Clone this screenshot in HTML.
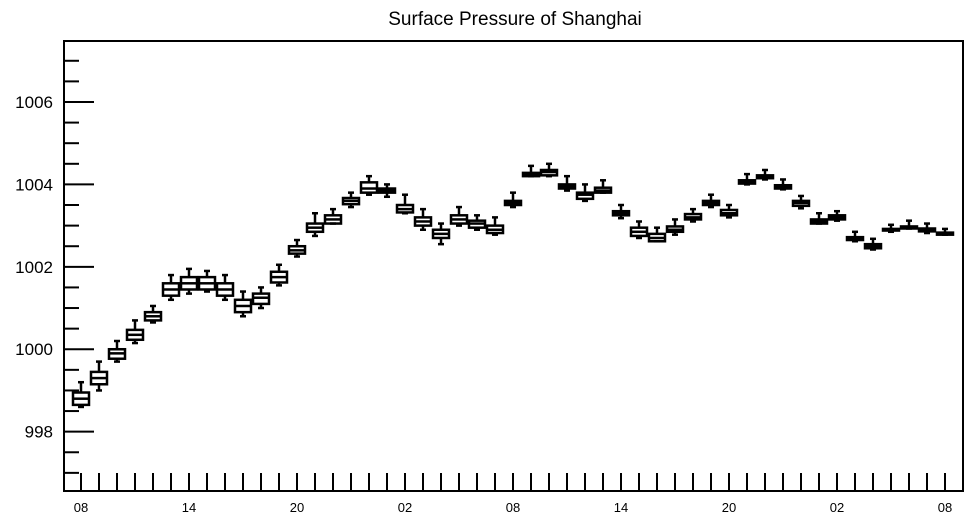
<!DOCTYPE html>
<html><head><meta charset="utf-8"><style>
html,body{margin:0;padding:0;background:#fff;}
svg{display:block;font-family:"Liberation Sans",sans-serif;}
</style></head><body>
<svg id="chart" width="969" height="520" viewBox="0 0 969 520" xmlns="http://www.w3.org/2000/svg">
<text x="515" y="25" font-size="19" text-anchor="middle" fill="#000">Surface Pressure of Shanghai</text>
<rect x="64" y="41" width="899" height="450" fill="none" stroke="#000" stroke-width="2"/>
<g id="axes"></g>
<g id="marks"></g>
</svg>
<script>
const med=[998.8,999.3,999.9,1000.35,1000.8,1001.45,1001.6,1001.6,1001.45,1001.05,1001.25,1001.75,1002.4,1002.95,1003.15,1003.6,1003.9,1003.85,1003.4,1003.1,1002.8,1003.15,1003.05,1002.9,1003.55,1004.25,1004.3,1003.95,1003.75,1003.85,1003.3,1002.85,1002.7,1002.9,1003.2,1003.55,1003.3,1004.05,1004.2,1003.95,1003.55,1003.1,1003.2,1002.7,1002.5,1002.9,1002.95,1002.9,1002.8];
const q1=[998.65,999.15,999.77,1000.23,1000.7,1001.3,1001.45,1001.45,1001.3,1000.9,1001.1,1001.62,1002.32,1002.85,1003.05,1003.52,1003.8,1003.8,1003.32,1003.0,1002.7,1003.05,1002.95,1002.82,1003.5,1004.2,1004.22,1003.9,1003.65,1003.8,1003.25,1002.75,1002.62,1002.85,1003.15,1003.5,1003.25,1004.02,1004.15,1003.9,1003.48,1003.05,1003.15,1002.65,1002.45,1002.88,1002.93,1002.86,1002.78];
const q3=[998.95,999.45,1000.0,1000.47,1000.9,1001.6,1001.75,1001.75,1001.6,1001.2,1001.35,1001.88,1002.5,1003.05,1003.25,1003.67,1004.05,1003.9,1003.5,1003.2,1002.9,1003.25,1003.12,1003.0,1003.6,1004.28,1004.35,1004.0,1003.8,1003.92,1003.35,1002.95,1002.8,1002.98,1003.28,1003.6,1003.38,1004.1,1004.22,1003.98,1003.6,1003.15,1003.25,1002.72,1002.55,1002.92,1002.98,1002.93,1002.83];
const lo=[998.6,999.0,999.7,1000.15,1000.65,1001.2,1001.35,1001.4,1001.2,1000.8,1001.0,1001.55,1002.25,1002.75,1003.05,1003.45,1003.75,1003.7,1003.3,1002.9,1002.55,1003.0,1002.9,1002.78,1003.45,1004.2,1004.2,1003.85,1003.6,1003.8,1003.18,1002.7,1002.62,1002.78,1003.1,1003.45,1003.2,1004.0,1004.12,1003.88,1003.42,1003.05,1003.12,1002.62,1002.42,1002.85,1002.93,1002.82,1002.78];
const hi=[999.2,999.7,1000.2,1000.7,1001.05,1001.8,1001.95,1001.9,1001.8,1001.4,1001.5,1002.05,1002.65,1003.3,1003.4,1003.8,1004.2,1004.0,1003.75,1003.4,1003.05,1003.45,1003.25,1003.2,1003.8,1004.45,1004.5,1004.2,1004.0,1004.1,1003.5,1003.1,1002.95,1003.15,1003.4,1003.75,1003.5,1004.25,1004.35,1004.12,1003.72,1003.3,1003.35,1002.85,1002.68,1003.02,1003.12,1003.05,1002.92];
const yTicks=[998,1000,1002,1004,1006];
const xLabels=["08","14","20","02","08","14","20","02","08"];
const NS="http://www.w3.org/2000/svg";
const X0=64,X1=963,Y0=491,Y1=41,VMIN=996.56,VMAX=1007.48;
const x=i=>81+i*18;
const y=v=>Y0-(v-VMIN)/(VMAX-VMIN)*(Y0-Y1);
function mk(tag,attrs,parent){const e=document.createElementNS(NS,tag);for(const k in attrs)e.setAttribute(k,attrs[k]);parent.appendChild(e);return e;}
const axes=document.getElementById('axes'),marks=document.getElementById('marks');
// y ticks
for(let v=996.5;v<=1007.5;v+=0.5){
  if(v<VMIN||v>VMAX)continue;
  const major=yTicks.includes(v);
  const t=mk('line',{x1:X0,x2:X0+(major?30:15),y1:y(v),y2:y(v),stroke:'#000','stroke-width':2},axes);
  
  
}
yTicks.forEach(v=>{
  const t=mk('text',{x:53,y:y(v)+6,'font-size':17,'text-anchor':'end',fill:'#000'},axes);
  t.textContent=v;
  
  
});
// x ticks
for(let i=0;i<med.length;i++){
  const t=mk('line',{x1:x(i),x2:x(i),y1:Y0,y2:Y0-18,stroke:'#000','stroke-width':2},axes);
  
  
}
xLabels.forEach((l,k)=>{
  const t=mk('text',{x:x(k*6),y:512,'font-size':13,'text-anchor':'middle',fill:'#000'},axes);
  t.textContent=l;
  
  
});
// boxes
for(let i=0;i<med.length;i++){
  const g=mk('g',{stroke:'#000','stroke-width':2.5,fill:'none'},marks);
  
  
  const cx=x(i);
  mk('line',{x1:cx,x2:cx,y1:y(hi[i]),y2:y(q3[i])},g);
  mk('line',{x1:cx,x2:cx,y1:y(q1[i]),y2:y(lo[i])},g);
  mk('line',{x1:cx-3,x2:cx+3,y1:y(hi[i]),y2:y(hi[i])},g);
  mk('line',{x1:cx-3,x2:cx+3,y1:y(lo[i]),y2:y(lo[i])},g);
  mk('rect',{x:cx-8,y:y(q3[i]),width:16,height:Math.max(1,y(q1[i])-y(q3[i]))},g);
  mk('line',{x1:cx-8,x2:cx+8,y1:y(med[i]),y2:y(med[i])},g);
}
</script>
</body></html>
